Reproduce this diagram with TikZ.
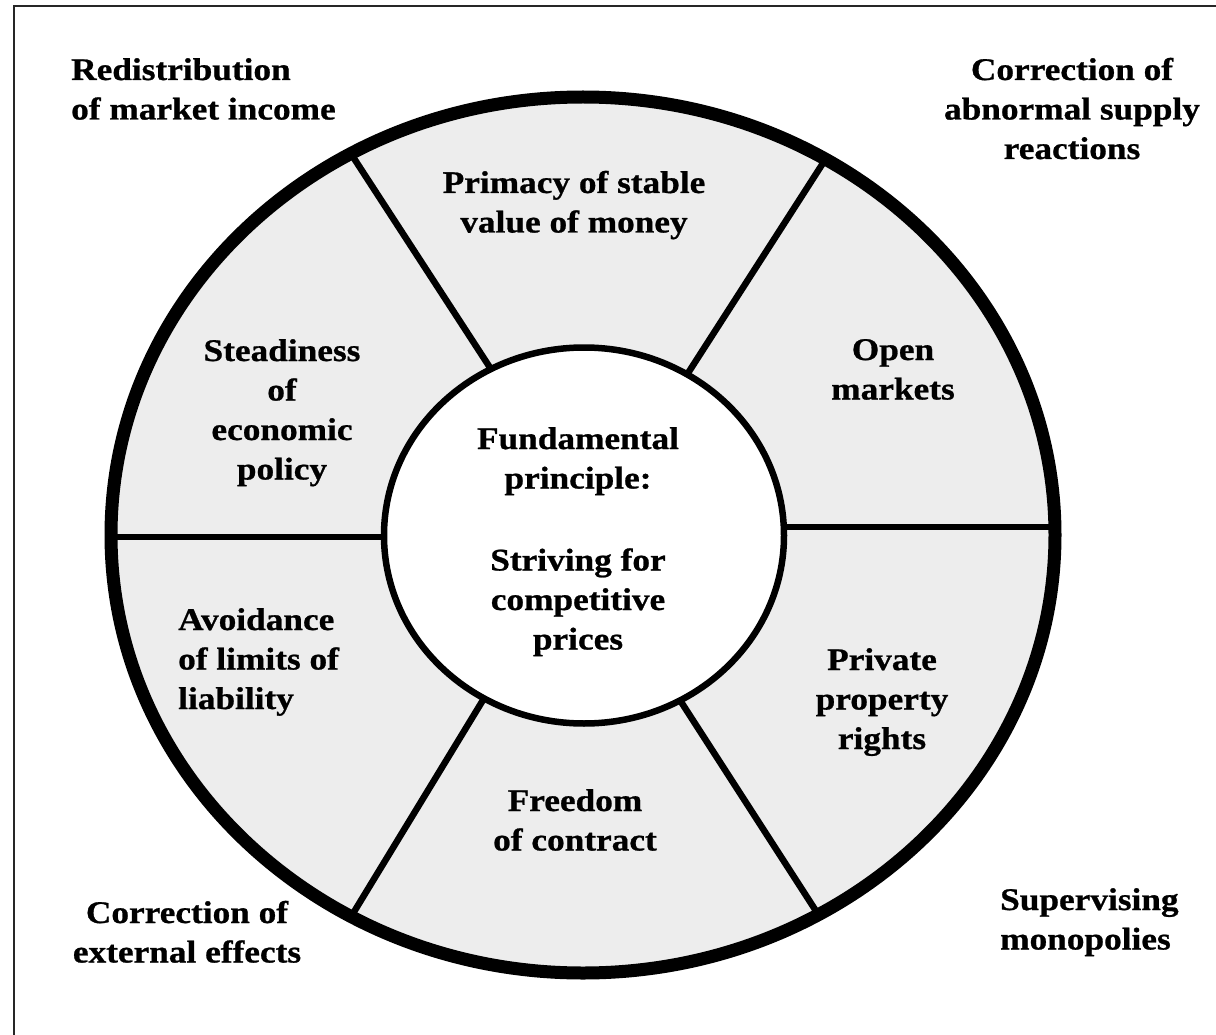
\documentclass[tikz,border=0pt]{standalone}
\usepackage{fontspec}
\newfontfamily\lblfont{Liberation Serif}[FakeStretch=1.12, BoldFont={Liberation Serif Bold}, BoldFeatures={FakeBold=0.8}]
% centred and left-aligned stacks of lines, baseline at the first line
\newcommand\stackC[1]{\begin{tabular}[t]{@{}c@{}}#1\end{tabular}}
\newcommand\stackL[1]{\begin{tabular}[t]{@{}l@{}}#1\end{tabular}}
\definecolor{ringgray}{HTML}{EDEDED}
\begin{document}
\begin{tikzpicture}[x=1pt,y=-1pt,
  lbl/.style={inner sep=0pt, font=\lblfont\bfseries\fontsize{31.5}{39.5}\selectfont},
  divider/.style={line width=6.5pt},
  frameline/.style={line width=2pt, draw=black!85}]
  \useasboundingbox (0,0) rectangle (1216,1035);
  \begin{scope}
    \clip (0,0) rectangle (1216,1035);
    \draw[frameline] (14,1100) |- (1300,6);
  \end{scope}

  \coordinate (oc) at (583,535);
  \coordinate (ic) at (584,535.5);

  % grey ring
  \fill[ringgray] (oc) ellipse [x radius=472pt, y radius=438pt];

  % dividers between the segments of the ring
  \begin{scope}
    \clip (oc) ellipse [x radius=472pt, y radius=438pt];
    \draw[divider] (331,123) -- (513,403);
    \draw[divider] (852,118) -- (663,412);
    \draw[divider] (332,948) -- (508,659);
    \draw[divider] (836,942) -- (656,663);
    \draw[divider] (90,537) -- (400,537);
    \draw[divider] (770,527) -- (1080,527);
  \end{scope}

  % centre and rim
  \draw[line width=6.5pt, fill=white] (ic) ellipse [x radius=200pt, y radius=188pt];
  \draw[line width=13pt] (oc) ellipse [x radius=472pt, y radius=438pt];

  % centre
  \node[lbl, anchor=base] (core) at (578,449)
    {\stackC{Fundamental\\principle:\\[3pt] \\Striving for\\competitive\\prices}};

  % segments of the ring
  \node[lbl, anchor=base] (money) at (574,193) {\stackC{Primacy of stable\\value of money}};
  \node[lbl, anchor=base] (open) at (893,360) {\stackC{Open\\markets}};
  \node[lbl, anchor=base] (property) at (882,670) {\stackC{Private\\property\\rights}};
  \node[lbl, anchor=base] (contract) at (575,811) {\stackC{Freedom\\of contract}};
  \node[lbl, anchor=base west] (liability) at (178,630) {\stackL{Avoidance\\of limits of\\liability}};
  \node[lbl, anchor=base] (policy) at (282,361) {\stackC{Steadiness\\of\\economic\\policy}};

  % corrective principles outside the ring
  \node[lbl, anchor=base west] (income) at (71,80) {\stackL{Redistribution\\of market income}};
  \node[lbl, anchor=base] (supply) at (1072,80) {\stackC{Correction of\\abnormal supply\\reactions}};
  \node[lbl, anchor=base west] (monopolies) at (1000,910) {\stackL{Supervising\\monopolies}};
  \node[lbl, anchor=base] (external) at (187,923) {\stackC{Correction of\\external effects}};
\end{tikzpicture}
\end{document}
